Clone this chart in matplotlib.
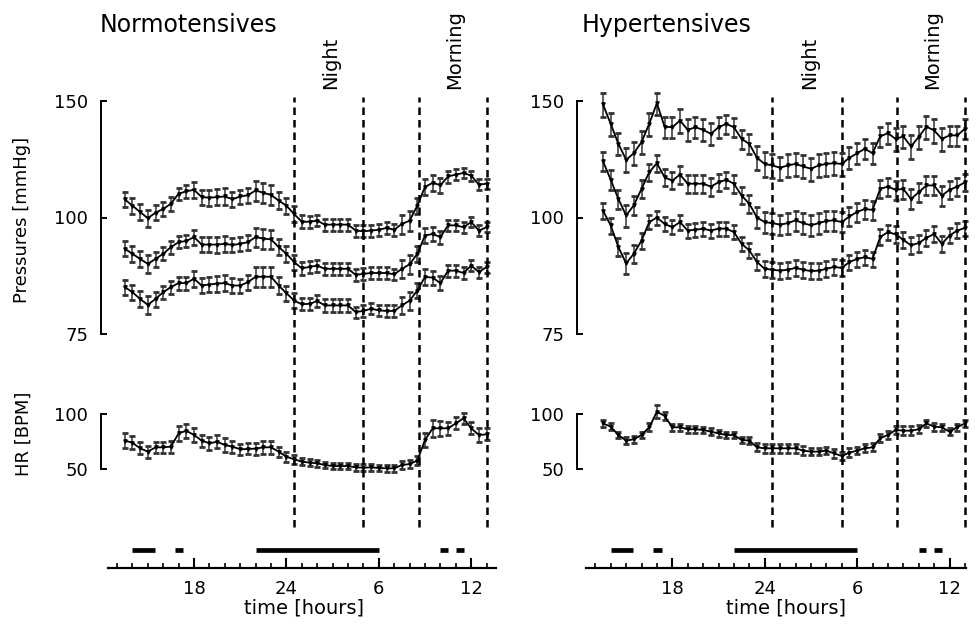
import numpy as np
import matplotlib
matplotlib.use("Agg")
import matplotlib.pyplot as plt
from matplotlib import transforms

plt.rcParams["font.family"] = ["DejaVu Sans"]

# time of each half-hour average (hours, 24 = midnight, 36 = noon next day)
hours = [13.5, 14.0, 14.5, 15.0, 15.5, 16.0, 16.5, 17.0, 17.5, 18.0, 18.5, 19.0,
         19.5, 20.0, 20.5, 21.0, 21.5, 22.0, 22.5, 23.0, 23.5, 24.0, 24.5, 25.0,
         25.5, 26.0, 26.5, 27.0, 27.5, 28.0, 28.5, 29.0, 29.5, 30.0, 30.5, 31.0,
         31.5, 32.0, 32.5, 33.0, 33.5, 34.0, 34.5, 35.0, 35.5, 36.0, 36.5, 37.0]

# Normotensives
sys_n = [105.5, 103.5, 101.6, 99.8, 101.4, 102.5, 104.1, 107.3, 108.1, 108.6, 106.2, 106.0,
         106.2, 106.4, 105.5, 106.4, 106.8, 108.4, 107.6, 106.9, 105.1, 103.5, 101.0, 98.8,
         98.8, 99.1, 98.0, 98.0, 98.0, 98.0, 96.4, 96.2, 96.4, 96.6, 97.1, 96.6,
         98.2, 99.1, 103.5, 109.6, 111.0, 110.2, 113.3, 114.0, 114.6, 113.6, 110.4, 110.7]
map_n = [91.8, 90.6, 89.4, 88.3, 89.4, 90.6, 92.2, 93.4, 93.7, 94.7, 92.8, 92.8,
         92.8, 93.0, 92.7, 93.0, 93.4, 94.7, 94.3, 94.1, 92.2, 90.6, 88.7, 87.3,
         87.6, 87.9, 87.2, 87.2, 87.2, 87.2, 85.9, 86.1, 86.3, 86.3, 86.3, 86.0,
         87.2, 88.2, 90.6, 95.1, 95.5, 94.7, 97.8, 97.8, 97.3, 98.7, 96.4, 97.3]
dia_n = [83.4, 82.4, 81.1, 80.0, 81.1, 82.4, 83.4, 84.2, 84.2, 85.1, 83.7, 83.9,
         84.1, 84.2, 83.7, 83.7, 84.4, 85.5, 85.5, 85.5, 83.7, 82.2, 80.8, 80.1,
         80.2, 80.7, 79.9, 79.9, 79.9, 79.9, 78.7, 78.9, 79.3, 79.0, 78.9, 78.9,
         79.9, 80.8, 82.7, 85.5, 85.3, 84.2, 86.8, 86.8, 86.3, 87.9, 86.5, 87.6]
hr_n = [75.8, 73.9, 68.8, 65.8, 69.7, 69.7, 70.3, 82.4, 84.8, 80.9, 75.8, 73.3,
        74.8, 71.8, 70.3, 67.9, 68.2, 68.5, 69.7, 69.7, 65.8, 61.2, 58.8, 56.7,
        55.8, 55.2, 53.6, 52.7, 52.7, 52.7, 51.5, 51.2, 51.5, 50.9, 50.6, 50.6,
        53.6, 54.5, 57.6, 76.4, 87.0, 87.0, 87.0, 91.5, 96.1, 87.0, 80.9, 81.5]
sys_sem_n = [2.3, 2.4, 2.3, 2.5, 2.2, 2.0, 2.1, 2.0, 2.1, 2.6, 2.4, 2.5,
             2.6, 2.7, 2.4, 2.3, 2.5, 3.3, 3.4, 3.2, 2.7, 2.5, 2.3, 1.8,
             1.7, 1.6, 1.6, 1.6, 1.6, 1.7, 1.6, 1.6, 1.6, 1.5, 1.6, 1.6,
             2.6, 2.8, 2.4, 2.8, 2.8, 2.6, 2.2, 2.1, 2.0, 1.9, 1.8, 1.8]
map_sem_n = [1.8, 1.8, 1.8, 1.9, 1.7, 1.5, 1.6, 1.5, 1.6, 1.9, 1.8, 1.9,
             2.0, 2.0, 1.8, 1.7, 1.9, 2.5, 2.6, 2.4, 2.0, 1.9, 1.7, 1.4,
             1.3, 1.3, 1.3, 1.3, 1.3, 1.3, 1.2, 1.2, 1.2, 1.2, 1.2, 1.2,
             2.0, 2.1, 1.8, 2.0, 1.8, 1.7, 1.6, 1.5, 1.5, 1.4, 1.4, 1.4]
dia_sem_n = [1.5, 1.5, 1.5, 1.6, 1.4, 1.3, 1.3, 1.3, 1.3, 1.6, 1.5, 1.5,
             1.6, 1.6, 1.5, 1.4, 1.5, 2.0, 2.1, 2.0, 1.7, 1.5, 1.4, 1.1,
             1.1, 1.1, 1.1, 1.1, 1.1, 1.1, 1.0, 1.0, 1.0, 1.0, 1.0, 1.0,
             1.6, 1.7, 1.5, 1.6, 1.5, 1.4, 1.3, 1.3, 1.2, 1.2, 1.2, 1.2]
hr_sem_n = [6.5, 6.0, 5.5, 5.5, 5.0, 5.0, 5.5, 6.5, 6.5, 6.0, 5.5, 6.0,
            6.0, 6.0, 5.5, 5.0, 5.0, 5.5, 6.0, 6.0, 4.5, 4.5, 4.0, 3.5,
            3.0, 3.0, 3.0, 3.0, 3.0, 3.0, 3.0, 3.0, 3.0, 3.0, 3.0, 3.0,
            3.5, 3.5, 4.0, 6.5, 7.5, 7.0, 6.0, 5.5, 5.0, 5.5, 6.0, 5.5]

# Hypertensives
sys_h = [147.8, 136.6, 126.7, 119.8, 122.5, 127.5, 136.6, 148.6, 135.1, 134.8, 138.4, 133.5,
         134.8, 133.5, 131.5, 134.8, 136.6, 134.8, 129.0, 126.7, 120.6, 118.1, 117.5, 116.6,
         117.5, 118.1, 117.1, 116.2, 117.5, 118.1, 118.4, 118.1, 120.6, 122.5, 124.5, 122.5,
         130.2, 131.8, 129.0, 130.2, 125.5, 130.0, 135.1, 133.2, 129.0, 130.7, 130.7, 134.0]
map_h = [119.2, 112.1, 105.6, 100.6, 103.6, 108.9, 114.9, 118.4, 113.0, 111.8, 114.0, 110.7,
         110.7, 110.7, 109.7, 111.2, 112.1, 110.7, 106.7, 104.1, 100.0, 98.7, 98.4, 98.0,
         98.4, 99.2, 98.4, 97.8, 98.4, 99.0, 99.2, 98.7, 100.3, 101.6, 102.5, 102.2,
         108.9, 109.7, 108.6, 108.9, 105.6, 107.8, 110.1, 110.1, 106.7, 108.6, 109.7, 111.2]
dia_h = [102.0, 97.8, 92.2, 88.4, 90.6, 93.8, 98.7, 100.0, 98.2, 97.3, 98.7, 96.4,
         96.6, 96.9, 96.4, 96.9, 96.9, 96.0, 93.0, 91.4, 88.7, 87.2, 87.0, 86.8,
         87.0, 87.4, 87.0, 86.7, 86.8, 87.2, 87.6, 87.4, 88.7, 89.4, 89.8, 89.4,
         94.7, 96.0, 95.4, 94.0, 92.6, 93.2, 94.5, 95.5, 93.0, 95.1, 96.4, 97.1]
hr_h = [91.5, 88.5, 80.9, 75.8, 77.0, 80.9, 87.9, 102.1, 98.2, 87.9, 87.9, 86.1,
        86.1, 85.5, 83.9, 82.4, 80.9, 80.9, 76.4, 75.8, 69.7, 68.8, 68.8, 68.8,
        68.8, 68.8, 66.7, 65.8, 65.8, 66.7, 64.2, 61.8, 64.8, 66.7, 68.8, 69.7,
        77.9, 80.9, 85.5, 84.8, 84.8, 86.1, 91.5, 88.5, 87.9, 83.9, 87.9, 91.5]
sys_sem_h = [7.5, 6.0, 5.0, 5.0, 5.0, 5.5, 6.0, 7.0, 5.5, 5.5, 6.5, 5.5,
             5.5, 5.5, 5.5, 5.5, 5.0, 5.0, 4.5, 4.5, 5.0, 5.0, 4.8, 4.5,
             4.5, 4.5, 4.5, 4.5, 4.5, 4.5, 4.5, 4.5, 4.5, 4.5, 4.5, 4.5,
             5.0, 5.0, 5.5, 5.5, 5.5, 5.5, 6.0, 6.0, 5.5, 5.0, 5.0, 5.0]
map_sem_h = [4.0, 3.5, 3.0, 3.2, 3.0, 3.0, 3.2, 3.5, 3.0, 3.0, 3.3, 3.0,
             3.0, 3.0, 3.0, 3.0, 3.0, 3.0, 2.8, 2.8, 3.0, 3.0, 2.9, 2.8,
             2.8, 2.8, 2.8, 2.8, 2.8, 2.8, 2.8, 2.8, 2.8, 2.8, 2.8, 2.8,
             3.0, 3.0, 3.2, 3.2, 3.2, 3.2, 3.3, 3.3, 3.2, 3.0, 3.0, 3.0]
dia_sem_h = [2.4, 2.2, 2.2, 2.3, 2.2, 2.0, 2.0, 2.0, 1.9, 1.9, 2.1, 1.9,
             1.9, 1.9, 1.9, 1.9, 1.9, 1.9, 1.8, 1.8, 1.8, 1.8, 1.8, 1.7,
             1.7, 1.7, 1.7, 1.7, 1.7, 1.7, 1.7, 1.7, 1.7, 1.7, 1.7, 1.7,
             2.0, 2.0, 2.1, 2.1, 2.1, 2.1, 2.1, 2.1, 2.0, 2.0, 2.0, 2.0]
hr_sem_h = [3.0, 3.0, 3.0, 3.0, 3.0, 3.0, 3.5, 6.0, 4.0, 3.0, 3.0, 3.0,
            3.0, 3.0, 3.0, 3.0, 3.0, 3.0, 3.0, 3.0, 3.5, 4.0, 4.0, 4.0,
            4.0, 4.0, 4.0, 3.5, 3.5, 3.5, 4.0, 4.0, 4.0, 3.5, 3.5, 3.5,
            3.5, 3.5, 4.0, 4.0, 4.0, 3.5, 3.5, 3.5, 3.0, 3.0, 3.0, 3.0]

# period markers and bars under the curves
dash_hours = [24.5, 29.0, 32.6, 37.0]
period_labels = [("Night", 26.9), ("Morning", 34.9)]
bar_spans = [(14.0, 15.45), (16.75, 17.3), (22.0, 30.0), (34.0, 34.5), (35.0, 35.5)]
major_hours = [18, 24, 30, 36]
major_labels = ["18", "24", "6", "12"]
minor_hours = list(range(13, 38))
p_ticks = [75, 100, 150]
hr_ticks = [50, 100]

W, H = 977, 629
fig = plt.figure(figsize=(W / 100, H / 100), dpi=100)


def add_ax(left, top, right, bottom):
    return fig.add_axes([left / W, 1 - bottom / H, (right - left) / W, (bottom - top) / H])


def style_y(ax):
    for s in ["top", "right", "bottom"]:
        ax.spines[s].set_visible(False)
    ax.spines["left"].set_linewidth(1.4)
    ax.tick_params(axis="y", direction="in", length=4, width=1.4, labelsize=13, pad=9)
    ax.tick_params(axis="x", bottom=False, labelbottom=False)
    ax.patch.set_alpha(0)


def draw_series(ax, y, e):
    ax.errorbar(hours, y, yerr=e, color="black", lw=1.3, ecolor="0.2", elinewidth=1.1,
                capsize=2.0, capthick=2.0, marker="v", ms=2.4, clip_on=False)


recip = (lambda v: -1.0 / np.asarray(v, float), lambda v: -1.0 / np.asarray(v, float))

panels = [
    dict(title="Normotensives", x18=194.0, x0=11.95, x_end=37.6, axis_end=37.6,
         p=[(sys_n, sys_sem_n), (map_n, map_sem_n), (dia_n, dia_sem_n)], hr=(hr_n, hr_sem_n),
         title_x=100, xlabel_x=304),
    dict(title="Hypertensives", x18=672.3, x0=11.8, x_end=37.6, axis_end=37.1,
         p=[(sys_h, sys_sem_h), (map_h, map_sem_h), (dia_h, dia_sem_h)], hr=(hr_h, hr_sem_h),
         title_x=582, xlabel_x=786),
]

pxh = 15.4
for i, pn in enumerate(panels):
    left = pn["x18"] + (pn["x0"] - 18) * pxh
    right = pn["x18"] + (pn["x_end"] - 18) * pxh
    xl = (pn["x0"], pn["x_end"])

    # pressures
    axp = add_ax(left, 101, right, 334)
    axp.set_yscale("function", functions=recip)
    axp.set_xlim(xl)
    axp.set_ylim(75, 150)
    axp.set_yticks(p_ticks)
    axp.set_yticklabels([str(t) for t in p_ticks])
    axp.yaxis.set_minor_locator(matplotlib.ticker.NullLocator())
    style_y(axp)
    for y, e in pn["p"]:
        draw_series(axp, y, e)

    # heart rate
    axh = add_ax(left, 414, right, 469)
    axh.set_xlim(xl)
    axh.set_ylim(50, 100)
    axh.set_yticks(hr_ticks)
    style_y(axh)
    draw_series(axh, pn["hr"][0], pn["hr"][1])

    # dashed period lines
    axo = add_ax(left, 97, right, 527)
    axo.set_xlim(xl)
    axo.set_ylim(0, 1)
    axo.axis("off")
    for h in dash_hours:
        axo.plot([h, h], [0, 1], color="black", lw=1.8, dashes=(3.0, 2.0), clip_on=False)
    tr = transforms.blended_transform_factory(axo.transData, fig.transFigure)
    for lab, h in period_labels:
        axo.text(h, 1 - 89 / H, lab, rotation=90, ha="center", va="bottom",
                 fontsize=14, transform=tr)

    # time axis with bars
    axt = add_ax(left, 538, right, 567.7)
    axt.set_xlim(xl)
    axt.set_ylim(0, 1)
    for a, b in bar_spans:
        axt.plot([a, b], [0.6, 0.6], color="black", lw=3.4, solid_capstyle="butt")
    for s in ["top", "right", "left"]:
        axt.spines[s].set_visible(False)
    axt.spines["bottom"].set_linewidth(1.6)
    axt.spines["bottom"].set_bounds(12.4, pn["axis_end"])
    axt.set_yticks([])
    axt.set_xticks(major_hours)
    axt.set_xticklabels(major_labels)
    axt.set_xticks(minor_hours, minor=True)
    axt.tick_params(axis="x", which="major", direction="in", length=7, width=1.5,
                    labelsize=13, pad=9)
    axt.tick_params(axis="x", which="minor", direction="in", length=3.5, width=1.2)
    axt.patch.set_alpha(0)

    fig.text(pn["title_x"] / W, 1 - 25 / H, pn["title"], fontsize=17, ha="left", va="center")
    fig.text(pn["xlabel_x"] / W, 1 - 608 / H, "time [hours]", fontsize=14,
             ha="center", va="center")

fig.text(22 / W, 1 - 220 / H, "Pressures [mmHg]", rotation=90, fontsize=13,
         ha="center", va="center")
fig.text(24 / W, 1 - 434 / H, "HR [BPM]", rotation=90, fontsize=13,
         ha="center", va="center")

fig.savefig("out.png", dpi=100)
